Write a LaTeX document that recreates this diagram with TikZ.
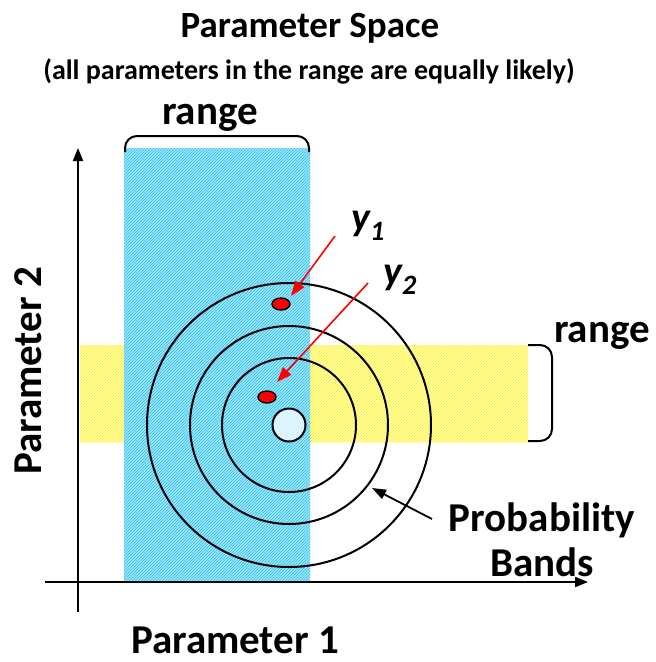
\documentclass[tikz,border=0pt]{standalone}
\usepackage{fontspec}
\setmainfont{Carlito}
\usepackage{tikz}
\usetikzlibrary{arrows.meta,positioning,shapes.geometric,patterns}
\definecolor{bandblue}{RGB}{165,228,250}
\definecolor{hatchblue}{RGB}{30,195,240}
\definecolor{bandyellow}{RGB}{255,255,175}
\definecolor{hatchyellow}{RGB}{255,238,40}

\begin{document}
\begin{tikzpicture}[x=1pt, y=-1pt,
  big/.style={font=\bfseries\fontsize{41}{41}\selectfont, inner sep=0pt},
  ax/.style={line width=2pt, -{Triangle[length=13pt,width=10pt]}},
  band/.style={line width=2pt},
  ring/.style={line width=2pt},
  redarr/.style={red, line width=1.6pt, -{Triangle[length=15pt,width=11pt]}},
  dot/.style={ellipse, draw=black, line width=1.4pt, fill=red, minimum width=18pt, minimum height=12pt, inner sep=0pt}]
\useasboundingbox (0,0) rectangle (656,662);
% ranges
\fill[bandyellow] (80,345) rectangle (528,442);
\fill[pattern=north east lines, pattern color=hatchyellow] (80,345) rectangle (528,442);
\fill[bandblue] (124,148) rectangle (310,582);
\fill[pattern=north east lines, pattern color=hatchblue] (124,148) rectangle (310,582);
\draw[band, rounded corners=12pt] (125,152) -- (125,136) -- (309,136) -- (309,152);
\draw[band, rounded corners=12pt] (528,345) -- (552,345) -- (552,441) -- (528,441);
% axes
\coordinate (org) at (78,582);
\coordinate (ytop) at (78,148);
\coordinate (xend) at (588,582);
\draw[ax] (78,612) -- (ytop);
\draw[ax] (45,582) -- (xend);
% bands
\node[circle, draw, ring, fill=bandblue!40!white, minimum size=33pt, inner sep=0pt] (ctr) at (289,425) {};
\draw[ring] (ctr.center) circle[radius=67];
\draw[ring] (ctr.center) circle[radius=99];
\draw[ring] (ctr.center) circle[radius=142];
\coordinate (bandpt) at (372,488);
% samples
\node[dot] (s1) at (281,304) {};
\node[dot] (s2) at (267,397) {};
\node[font=\bfseries\itshape\fontsize{40}{40}\selectfont] (y1) at (368,226) {y\textsubscript{1}};
\node[font=\bfseries\itshape\fontsize{40}{40}\selectfont] (y2) at (400,280) {y\textsubscript{2}};
\coordinate (t1) at (335,236);
\coordinate (t2) at (368,283);
\draw[redarr] (t1) -- (291,296);
\draw[redarr] (t2) -- (277,382);
% labels
\node[font=\bfseries\fontsize{37}{37}\selectfont] (title) at (310,28) {Parameter Space};
\node[font=\bfseries\fontsize{28}{28}\selectfont] (sub) at (309,71) {(all parameters in the range are equally likely)};
\node[big] (r1) at (210,118) {range};
\node[big] (r2) at (602,336) {range};
\node[big, align=center] (prob) at (542,540) {Probability\\[4pt]Bands};
\node[big] (p1) at (235,640) {Parameter 1};
\node[big, rotate=90] (p2) at (28,371) {Parameter 2};
\draw[line width=1.8pt, -{Triangle[length=14pt,width=10pt]}] (432,519) -- (bandpt);
\end{tikzpicture}
\end{document}
